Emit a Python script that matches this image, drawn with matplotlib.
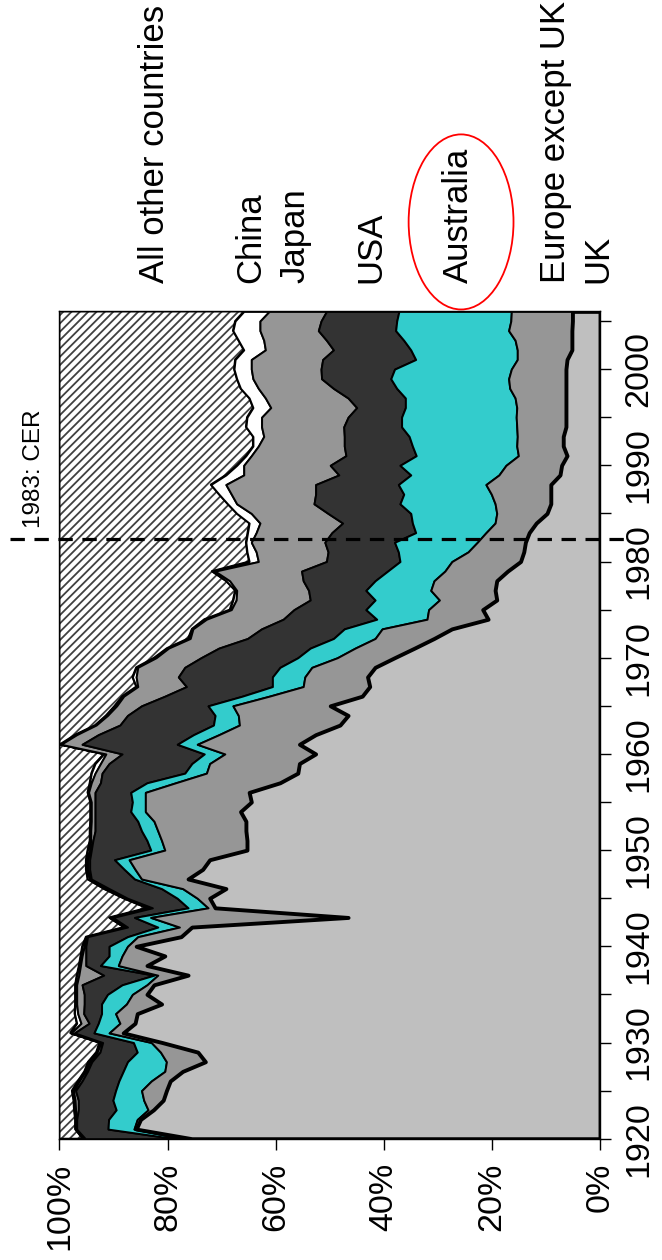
import numpy as np
import matplotlib
matplotlib.use('Agg')
import matplotlib.pyplot as plt
from matplotlib.patches import Ellipse

plt.rcParams['font.family'] = ['Liberation Sans', 'DejaVu Sans']
plt.rcParams['hatch.linewidth'] = 1.3
plt.rcParams['hatch.color'] = '#404040'

years = np.arange(1920, 2007)

# share of exports by destination, %
uk = [75.5, 85.8, 85.0, 82.6, 80.8, 80.2, 79.5, 77.2, 73.0, 74.4,
      81.0, 88.2, 86.0, 85.6, 81.1, 83.8, 82.5, 76.2, 83.8, 80.5,
      85.8, 77.5, 75.5, 46.6, 71.2, 72.2, 69.2, 76.2, 73.5, 72.2,
      65.3, 65.3, 65.5, 65.5, 66.5, 64.5, 64.9, 59.2, 55.9, 55.6,
      52.6, 55.6, 52.6, 48.1, 46.6, 49.9, 44.0, 42.6, 43.0, 41.6,
      38.0, 34.3, 30.7, 27.4, 20.7, 21.7, 19.1, 19.4, 19.1, 17.1,
      14.7, 14.1, 13.8, 13.1, 11.8, 9.8, 9.1, 9.1, 9.1, 7.4,
      7.1, 6.1, 6.8, 6.8, 6.3, 6.3, 6.3, 6.3, 6.3, 6.3,
      6.3, 6.1, 5.2, 5.2, 5.2, 5.1, 5.1]
europe = [1.5, 0.4, 0.6, 1.0, 3.6, 4.6, 3.5, 3.3, 7.2, 6.9,
          2.0, 2.6, 2.8, 4.0, 6.5, 2.7, 1.3, 5.6, 5.3, 7.9,
          1.6, 8.0, 2.3, 36.5, 1.3, 2.3, 8.0, 8.6, 12.5, 14.9,
          15.2, 15.8, 16.3, 17.0, 17.6, 19.6, 19.2, 19.3, 16.9, 16.6,
          16.8, 18.9, 17.9, 18.6, 20.3, 18.0, 17.2, 12.3, 11.6, 11.7,
          10.6, 11.0, 10.9, 12.9, 11.3, 10.0, 10.6, 11.9, 11.6, 11.6,
          12.7, 10.3, 8.9, 8.0, 7.6, 9.3, 10.3, 11.0, 12.0, 11.3,
          10.3, 9.0, 8.6, 8.5, 9.1, 9.2, 9.1, 9.4, 10.4, 10.6,
          10.1, 9.2, 10.1, 10.5, 11.7, 11.4, 11.3]
australia = [1.5, 4.8, 5.3, 5.9, 5.7, 4.8, 6.0, 7.7, 7.2, 4.3,
             3.3, 2.8, 4.0, 2.6, 4.6, 4.6, 4.6, 0.7, 3.3, 2.4,
             3.4, 1.9, 4.0, 3.0, 3.7, 3.7, 3.9, 1.3, 2.0, 2.7,
             2.6, 2.7, 3.0, 3.0, 2.7, 2.4, 2.7, 5.3, 4.0, 3.3,
             3.8, 3.7, 4.7, 4.8, 4.3, 4.6, 5.0, 5.7, 6.0, 5.9,
             7.3, 8.3, 7.7, 7.0, 9.3, 11.6, 11.9, 12.0, 10.9, 10.6,
             9.6, 12.9, 15.3, 13.0, 15.3, 15.9, 17.6, 16.2, 16.2, 16.3,
             19.6, 18.9, 19.3, 20.0, 21.3, 21.2, 20.6, 20.3, 20.9, 21.8,
             21.6, 18.8, 19.7, 20.6, 20.9, 21.1, 20.8]
usa = [16.7, 5.8, 5.9, 7.0, 6.4, 7.4, 6.8, 6.6, 6.6, 6.9,
       5.7, 3.6, 1.7, 3.3, 3.2, 4.3, 7.4, 9.3, 2.7, 4.3,
       4.3, 7.4, 5.6, 4.0, 6.6, 9.2, 9.7, 8.0, 6.4, 4.6,
       11.0, 10.0, 8.6, 7.9, 6.6, 6.9, 6.6, 8.6, 15.3, 15.3,
       15.2, 17.6, 17.6, 17.3, 16.2, 12.3, 14.3, 15.9, 17.4, 17.6,
       17.9, 16.9, 15.9, 15.3, 17.3, 13.3, 12.0, 10.6, 13.3, 15.9,
       13.6, 13.0, 12.9, 15.5, 12.9, 15.3, 15.9, 16.3, 15.3, 13.3,
       12.9, 13.0, 12.6, 12.0, 10.7, 9.9, 9.0, 10.6, 11.7, 12.8,
       13.6, 17.2, 14.3, 14.3, 14.3, 14.0, 13.4]
japan = [0.2, 0.2, 0.2, 0.5, 0.6, 0.4, 0.5, 0.4, 0.4, 0.5,
         0.3, 0.6, 1.5, 1.1, 1.4, 1.4, 1.0, 4.6, 1.0, 0.7,
         0.3, 0.2, 0.5, 0.5, 0.7, 0.4, 0.6, 0.3, 0.4, 0.4,
         0.3, 0.4, 0.8, 0.7, 0.7, 0.7, 1.2, 1.7, 1.3, 1.6,
         3.0, 3.9, 4.0, 4.4, 3.7, 4.6, 7.6, 9.0, 7.8, 8.7,
         8.3, 9.3, 10.6, 12.7, 14.2, 11.6, 13.7, 13.3, 13.6, 16.0,
         12.6, 13.3, 13.6, 14.0, 15.3, 14.2, 14.3, 15.6, 16.6, 17.6,
         16.0, 17.5, 15.9, 14.9, 15.2, 16.0, 15.9, 15.3, 13.9, 12.7,
         12.9, 13.2, 12.6, 11.6, 10.8, 11.3, 10.6]
china = [0.3, 0.1, 0.1, 0.3, 0.3, 0.3, 0.3, 0.2, 0.3, 0.2,
         0.3, 0.2, 0.8, 0.6, 0.3, 0.3, 0.3, 0.4, 0.3, 0.3,
         0.4, 0.1, 0.2, 0.2, 0.3, 0.3, 0.4, 0.4, 0.3, 0.3,
         0.4, 0.2, 0.2, 0.2, 0.2, 0.2, 0.2, 0.3, 0.7, 1.0,
         0.4, 0.2, 0.3, 0.2, 0.3, 0.4, 0.3, 0.3, 0.7, 0.3,
         0.4, 0.3, 0.4, 0.2, 0.4, 0.3, 0.6, 0.3, 0.7, 0.6,
         1.7, 1.7, 1.0, 1.6, 2.0, 2.7, 1.7, 2.3, 2.8, 3.3,
         1.3, 1.0, 1.0, 2.0, 2.9, 2.7, 3.3, 3.0, 3.3, 3.0,
         3.2, 3.0, 4.0, 4.7, 5.0, 4.6, 4.7]
other = [4.3, 2.9, 2.9, 2.7, 2.6, 2.3, 3.4, 4.6, 5.3, 6.8,
         7.4, 2.0, 3.2, 2.8, 2.9, 2.9, 2.9, 3.2, 3.6, 3.9,
         4.2, 4.9, 11.9, 9.2, 16.2, 11.9, 8.2, 5.2, 4.9, 4.9,
         5.2, 5.6, 5.6, 5.7, 5.7, 5.7, 5.2, 5.6, 5.9, 6.6,
         8.2, 0.1, 2.9, 6.6, 8.6, 10.2, 11.6, 14.2, 13.5, 14.2,
         17.5, 19.9, 23.8, 24.5, 26.8, 31.5, 32.1, 32.5, 30.8, 28.2,
         35.1, 34.7, 34.5, 34.8, 35.1, 32.8, 31.1, 29.5, 28.0, 30.8,
         32.8, 34.5, 35.8, 35.8, 34.5, 34.7, 35.8, 35.1, 33.5, 32.8,
         32.3, 32.5, 34.1, 33.1, 32.1, 32.5, 34.1]

names = ['UK', 'Europe except UK', 'Australia', 'USA', 'Japan', 'China',
         'All other countries']
colors = ['#bfbfbf', '#969696', '#33cccc', '#333333', '#969696', 'white', 'white']
label_pos = [0.4, 8.3, 26.1, 42.4, 56.5, 64.6, 82.5]   # where the names sit, %
cer_year = 1982.3   # dashed line as drawn (labelled 1983)

shares = np.array([uk, europe, australia, usa, japan, china, other])
tops = np.cumsum(shares, axis=0)
bottoms = tops - shares

fig = plt.figure(figsize=(6.62, 12.6), dpi=100)
ax = fig.add_axes([59.4 / 662, 121.3 / 1260, 540.6 / 662, 827.3 / 1260])

# all other countries: hatched
ax.fill_betweenx(years, bottoms[6], 100, facecolor='white', hatch='////',
                 edgecolor='#404040', linewidth=0)
ax.fill_betweenx(years, bottoms[6], 100, facecolor='none',
                 edgecolor='black', linewidth=1.4)
for i in range(5, 0, -1):
    ax.fill_betweenx(years, bottoms[i], tops[i], facecolor=colors[i],
                     edgecolor='black', linewidth=1.4)
ax.fill_betweenx(years, bottoms[0], tops[0], facecolor=colors[0],
                 edgecolor='black', linewidth=2.8)

ax.set_xlim(100, 0)
ax.set_ylim(1920, 2006)

# CER line
ax.axhline(cer_year, xmin=-0.091, xmax=1.052, color='black', lw=2.3,
           linestyle=(0, (4.5, 3)), clip_on=False, zorder=5)
ax.text(-0.047, cer_year + 1.2, '1983: CER', transform=ax.get_yaxis_transform(),
        rotation=90, ha='center', va='bottom', fontsize=17.5)

for name, p in zip(names, label_pos):
    ax.text(p, 2009.0, name, rotation=90, ha='center', va='bottom',
            fontsize=25, clip_on=False)
ax.add_patch(Ellipse((25.7, 2015.3), width=19.4, height=18.2, fill=False,
                     edgecolor='red', lw=1.3, clip_on=False))

# axes
ax.yaxis.tick_right()
ax.set_yticks(np.arange(1920, 2001, 10))
ax.set_yticks(np.arange(1925, 2006, 10), minor=True)
ax.set_yticklabels([str(y) for y in range(1920, 2001, 10)])
ax.tick_params(axis='y', which='both', direction='out', length=8, width=1)
ax.tick_params(axis='y', which='major', labelsize=24.5, labelrotation=90, pad=9)
for t in ax.get_yticklabels():
    t.set_verticalalignment('center')

ax.set_xticks(np.arange(0, 101, 20))
ax.set_xticklabels(['%d%%' % v for v in range(0, 101, 20)])
ax.tick_params(axis='x', direction='out', length=8, width=1, labelsize=24.5,
               labelrotation=90, pad=9)
for s in ax.spines.values():
    s.set_linewidth(1.0)
    s.set_zorder(6)

fig.savefig('out.png', dpi=100)
